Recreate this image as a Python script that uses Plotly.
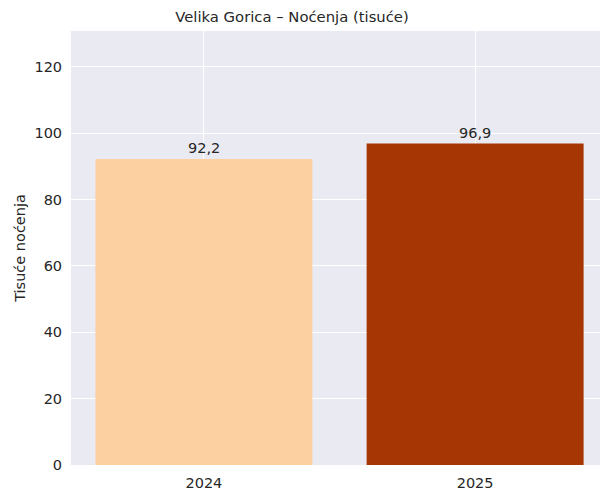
import plotly.graph_objects as go

# Overnight stays in Velika Gorica, thousands
years = ["2024", "2025"]
nocenja = [92.2, 96.9]
bar_colors = ["#fdd0a2", "#a63603"]
y_ticks = [0, 20, 40, 60, 80, 100, 120]

INK = "#262626"
FONT = dict(family="DejaVu Sans, Liberation Sans, Arial", size=14.5, color=INK)

fig = go.Figure()
fig.add_trace(go.Bar(
    x=[0, 1], y=nocenja, width=0.8,
    marker=dict(color=bar_colors, line=dict(width=0)),
    hoverinfo="skip", showlegend=False,
))

# value labels above the bars, Croatian decimal comma
for i, v in enumerate(nocenja):
    fig.add_annotation(
        x=i, y=v, text=f"{v:.1f}".replace(".", ","),
        showarrow=False, yanchor="bottom", yshift=1,
        font=dict(size=14.5, color=INK),
    )

# the page body keeps an 8px margin, so the figure is sized to fit inside it
fig.update_layout(
    width=600, height=487,
    margin=dict(l=63, r=0, t=23, b=30),
    paper_bgcolor="white",
    plot_bgcolor="#eaeaf2",
    font=FONT,
    title=dict(text="Velika Gorica – Noćenja (tisuće)", x=284 / 600, xanchor="center",
               xref="container", y=1 - 9 / 487, yanchor="middle",
               font=dict(size=14.8, color=INK)),
    xaxis=dict(
        range=[-0.49, 1.49], tickvals=[0, 1], ticktext=years,
        showgrid=True, gridcolor="white", gridwidth=1, zeroline=False,
        ticks="outside", ticklen=5, tickcolor="rgba(0,0,0,0)",
        showline=False,
    ),
    yaxis=dict(
        range=[0, 96.9 * 1.35], tickvals=y_ticks,
        showgrid=True, gridcolor="white", gridwidth=1, zeroline=False,
        ticks="outside", ticklen=5, tickcolor="rgba(0,0,0,0)",
        title=dict(text="Tisuće noćenja", font=dict(size=14.5, color=INK), standoff=5),
        showline=False,
    ),
)

fig.write_html("out.html")
